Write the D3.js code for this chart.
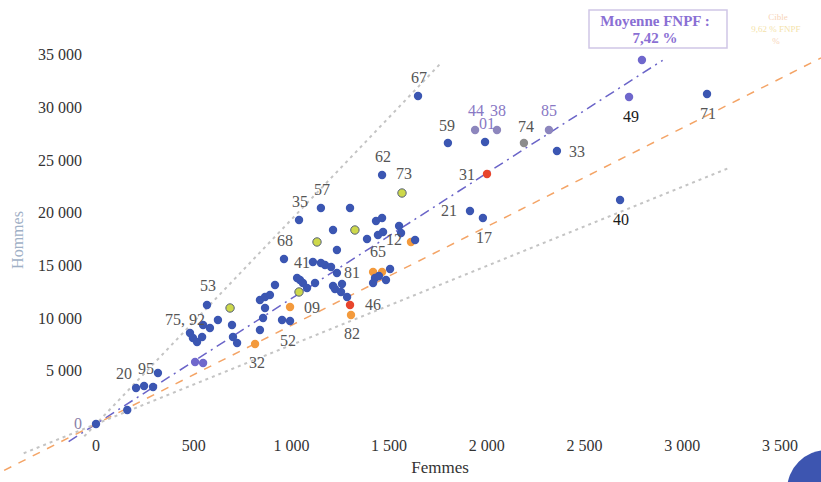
<!DOCTYPE html>
<html><head><meta charset="utf-8">
<script src="https://cdn.jsdelivr.net/npm/d3@7"></script>
<style>body{margin:0;background:#fff}svg{display:block}</style>
</head><body><svg id="c" width="821" height="482"></svg>
<script>
// ---- data ----
const codes   = ["0","","20","","","95","","","75, 92","","","","","53","","","","","","","32","","","","","","","","68","","52","09","","","","","","41","","","","81","","","","","","","46","82","35","57","","","","","","","","","65","","","12","","","","","","","","","","62","73","67","59","44","01","38","74","85","33","31","21","17","49","71","40"];
const femmes  = [0,160,205,246,292,317,507,548,481,496,517,543,548,568,686,624,583,696,701,722,814,839,855,865,839,865,890,916,962,952,993,993,1039,1029,1044,1059,1080,1110,1151,1172,1203,1233,1121,1213,1259,1223,1254,1285,1300,1305,1039,1151,1300,1213,1325,1131,1233,1387,1433,1464,1443,1469,1551,1561,1612,1633,1418,1464,1505,1428,1448,1484,1418,1464,1566,1648,1801,1940,1991,2052,2190,2318,2359,2001,1914,1980,2728,3127,2682];
const hommes  = [0,1330,3415,3605,3510,4840,5880,5790,8635,8160,7780,8255,9390,11290,11005,9870,9110,9395,8255,7685,7590,8920,10055,11005,11765,12050,12240,13190,15655,9870,9775,11100,12525,13850,13665,13380,12905,15370,15275,15085,14895,14325,13380,13095,13285,12810,12525,12050,11290,10340,19355,20495,20495,18405,18405,17270,16510,17555,19260,19545,17930,18215,18785,18120,17270,17460,14420,14420,14705,13850,14040,13665,13380,23625,21915,31120,26660,27895,26755,27895,26660,27895,25900,23720,20210,19545,31025,31310,21250];
const groups  = ["b","b","b","b","b","b","v","v","b","b","b","b","b","b","y","b","b","b","b","b","o","b","b","b","b","b","b","b","b","b","b","o","y","b","b","b","b","b","b","b","b","b","b","b","b","b","b","b","r","o","b","b","b","b","y","y","b","b","b","b","b","b","b","b","o","b","o","o","b","b","b","b","b","b","y","b","b","p","b","p","g","p","b","r","b","b","v","b","b"];
const moyenne = {label1:"Moyenne FNPF :", label2:"7,42 %", femmes:2794, hommes:34535};
const refLines = [
  {name:"max",     ratio:19.4, from:-60,  to:1760},
  {name:"moyenne", ratio:11.9, from:-140, to:2900},
  {name:"cible",   ratio:9.36, from:-470, to:3710},
  {name:"min",     ratio:7.5,  from:-370, to:3245}
];
const xTicks = [0,500,1000,1500,2000,2500,3000,3500];
const yTicks = [5000,10000,15000,20000,25000,30000,35000];

// ---- layout / styles ----
const svg = d3.select("#c");
const x = d3.scaleLinear().domain([0,3500]).range([96,779.9]);
const y = d3.scaleLinear().domain([0,35000]).range([424,55.1]);
const fmt = d3.formatLocale({decimal:",",thousands:" ",grouping:[3],currency:["","€"]}).format(",d");
const font = "'Liberation Serif','DejaVu Serif',serif";
const col = {b:"#3b56b2",v:"#6f67cc",p:"#8d86bd",g:"#8c8c8c",r:"#e8452c",o:"#f39a3c",y:"#cdd84a"};
const lineStyle = {
  max:{stroke:"#c4c4c4",dash:"3,4",w:2},
  moyenne:{stroke:"#6a64c8",dash:"10,5,2,5",w:1.5},
  cible:{stroke:"#f4a466",dash:"8,8",w:1.5},
  min:{stroke:"#c4c4c4",dash:"3,4",w:2}
};
const labelPos = {"0":[-18,0],"20":[-12,-14],"95":[-12,-4],"75, 92":[-5,-13],"53":[1,-19],"32":[2,19],"52":[-2,20],"09":[22,1],"68":[1,-18],"41":[-11,1],"81":[15,0],"46":[23,0],"82":[1,19],"35":[1,-18],"57":[1,-18],"62":[1,-18],"73":[2,-19],"12":[-7,7],"65":[0,17],"21":[-21,0],"17":[1,20],"67":[1,-18],"59":[-1,-17],"44":[1,-19],"01":[2,-18],"38":[1,-19],"74":[2,-16],"85":[0,-19],"33":[20,1],"31":[-20,1],"49":[2,20],"71":[1,20],"40":[1,20]};
const labelCol = {"44":"#8878c4","01":"#8878c4","38":"#8878c4","85":"#8878c4","49":"#1a1a1a","40":"#1a1a1a","0":"#8a7fa8"};

// reference lines
const lineGen = d3.line().x(d=>x(d[0])).y(d=>y(d[1]));
refLines.forEach(l=>{
  const s = lineStyle[l.name];
  svg.append("path").attr("d",lineGen([[l.from,l.from*l.ratio],[l.to,l.to*l.ratio]]))
    .attr("fill","none").attr("stroke",s.stroke).attr("stroke-width",s.w).attr("stroke-dasharray",s.dash);
});

// axes tick labels
svg.append("g").selectAll("text").data(xTicks).join("text")
  .attr("x",d=>x(d)).attr("y",451).attr("text-anchor","middle")
  .attr("font-family",font).attr("font-size",16).attr("fill","#333").text(d=>fmt(d));
svg.append("g").selectAll("text").data(yTicks).join("text")
  .attr("x",82).attr("y",d=>y(d)+5).attr("text-anchor","end")
  .attr("font-family",font).attr("font-size",16).attr("fill","#333").text(d=>fmt(d));
svg.append("text").attr("x",440).attr("y",473).attr("text-anchor","middle")
  .attr("font-family",font).attr("font-size",17).attr("fill","#333").text("Femmes");
svg.append("text").attr("transform","translate(23,240) rotate(-90)").attr("text-anchor","middle")
  .attr("font-family",font).attr("font-size",16).attr("fill","#9fb0c6").text("Hommes");

// points
const pts = femmes.map((f,i)=>({f,h:hommes[i],c:codes[i],g:groups[i]}));
svg.append("g").selectAll("circle").data(pts).join("circle")
  .attr("cx",d=>x(d.f)).attr("cy",d=>y(d.h)).attr("r",4.2)
  .attr("fill",d=>col[d.g])
  .attr("stroke",d=>d.g==="y"?"#55607a":"none").attr("stroke-width",1);
svg.append("circle").attr("cx",x(moyenne.femmes)).attr("cy",y(moyenne.hommes)).attr("r",4.2).attr("fill",col.v);

// labels
svg.append("g").selectAll("text").data(pts.filter(d=>d.c!=="")).join("text")
  .attr("x",d=>x(d.f)+labelPos[d.c][0]).attr("y",d=>y(d.h)+labelPos[d.c][1]+5)
  .attr("text-anchor","middle").attr("font-family",font).attr("font-size",16)
  .attr("fill",d=>labelCol[d.c]||"#555").text(d=>d.c);

// moyenne box
svg.append("rect").attr("x",589).attr("y",10).attr("width",138).attr("height",38)
  .attr("fill","#fff").attr("stroke","#cfc6e6").attr("stroke-width",1.5);
svg.append("text").attr("x",655).attr("y",26).attr("text-anchor","middle").attr("font-family",font)
  .attr("font-weight","bold").attr("font-size",15).attr("fill","#8a6fd4").text(moyenne.label1);
svg.append("text").attr("x",655).attr("y",43).attr("text-anchor","middle").attr("font-family",font)
  .attr("font-weight","bold").attr("font-size",15).attr("fill","#8a6fd4").text(moyenne.label2);

// faded legend (top right)
const fade = svg.append("g").attr("font-family",font).attr("font-size",9).attr("text-anchor","middle").attr("opacity",0.45);
fade.append("text").attr("x",778).attr("y",20).attr("fill","#f0a060").text("Cible");
fade.append("text").attr("x",776).attr("y",32).attr("fill","#e8c040").text("9,62 % FNPF");
fade.append("text").attr("x",776).attr("y",44).attr("fill","#f0a060").text("%");

// decoration
svg.append("circle").attr("cx",827).attr("cy",490).attr("r",40).attr("fill","#3d55b0");
</script></body></html>
